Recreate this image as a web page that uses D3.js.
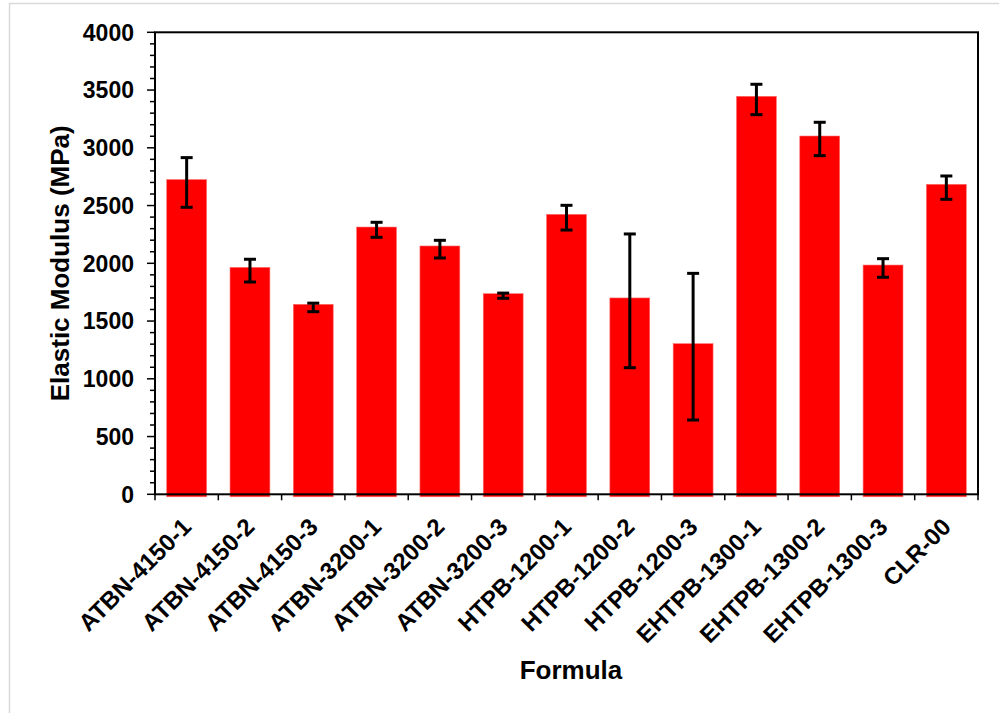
<!DOCTYPE html>
<html>
<head>
<meta charset="utf-8">
<script src="https://cdn.jsdelivr.net/npm/d3@7"></script>
<style>
  body { margin: 0; background: #fff; }
  text { font-family: Arial, "Liberation Sans", sans-serif; font-weight: bold; fill: #000; }
</style>
</head>
<body>
<div id="chart"></div>
<script>
// formulas along the x axis
var formulas = ["ATBN-4150-1", "ATBN-4150-2", "ATBN-4150-3", "ATBN-3200-1", "ATBN-3200-2", "ATBN-3200-3",
    "HTPB-1200-1", "HTPB-1200-2", "HTPB-1200-3", "EHTPB-1300-1", "EHTPB-1300-2", "EHTPB-1300-3", "CLR-00"];
// elastic modulus (MPa)
var modulus = [2725, 1965, 1645, 2314, 2150, 1737, 2424, 1700, 1304, 3446, 3102, 1985, 2684];
// error bar extents (MPa), above and below
var errPlus = [190, 70, 10, 41, 49, 5, 78, 554, 609, 104, 119, 55, 72];
var errMinus = [240, 127, 64, 89, 104, 40, 136, 604, 661, 159, 170, 106, 130];
var yTicks = [0, 500, 1000, 1500, 2000, 2500, 3000, 3500, 4000];

var W = 999, H = 713;
var m = {left: 155, right: 21, top: 32.3, bottom: 218.7};

var svg = d3.select("#chart").append("svg").attr("width", W).attr("height", H);

// outer chart border
svg.append("rect").attr("x", 9.5).attr("y", 3.5).attr("width", W).attr("height", H + 10)
    .attr("fill", "none").attr("stroke", "#d9d9d9").attr("stroke-width", 1.5);

var x = d3.scaleBand().domain(formulas).range([m.left, W - m.right]).paddingInner(0.37).paddingOuter(0.185);
var y = d3.scaleLinear().domain([0, 4000]).range([H - m.bottom, m.top]);
var xb = d3.scaleLinear().domain([0, formulas.length]).range([m.left, W - m.right]);

// bars
svg.append("g").selectAll("rect").data(formulas).enter().append("rect")
    .attr("x", d => x(d))
    .attr("width", x.bandwidth())
    .attr("y", (d, i) => y(modulus[i]))
    .attr("height", (d, i) => y(0) - y(modulus[i]) + 2.5)
    .attr("fill", "#ff0000")
    .attr("stroke", "#ff7070").attr("stroke-width", 0.6);

// error bars
var eb = svg.append("g").attr("stroke", "#000").attr("stroke-width", 3);
formulas.forEach(function(d, i) {
    var cx = x(d) + x.bandwidth() / 2;
    var hi = y(modulus[i] + errPlus[i]), lo = y(modulus[i] - errMinus[i]);
    eb.append("line").attr("x1", cx).attr("x2", cx).attr("y1", hi).attr("y2", lo);
    eb.append("line").attr("x1", cx - 6).attr("x2", cx + 6).attr("y1", hi).attr("y2", hi);
    eb.append("line").attr("x1", cx - 6).attr("x2", cx + 6).attr("y1", lo).attr("y2", lo);
});

// frame
svg.append("rect").attr("x", m.left).attr("y", m.top)
    .attr("width", W - m.right - m.left).attr("height", y(0) - m.top)
    .attr("fill", "none").attr("stroke", "#000").attr("stroke-width", 2);

// y axis: minor ticks every 100, major every 500
var minor = d3.range(0, 4001, 100);
svg.append("g").selectAll("line").data(minor).enter().append("line")
    .attr("x1", d => d % 500 === 0 ? m.left - 8 : m.left - 5).attr("x2", m.left)
    .attr("y1", d => y(d)).attr("y2", d => y(d))
    .attr("stroke", "#000").attr("stroke-width", 1.5);

svg.append("g").selectAll("text").data(yTicks).enter().append("text")
    .attr("x", 134).attr("y", d => y(d)).attr("dy", "0.36em")
    .attr("text-anchor", "end").style("font-size", "23px")
    .text(d => d);

// x axis ticks at category boundaries
svg.append("g").selectAll("line").data(d3.range(0, formulas.length + 1)).enter().append("line")
    .attr("x1", d => xb(d)).attr("x2", d => xb(d))
    .attr("y1", y(0)).attr("y2", y(0) + 6)
    .attr("stroke", "#000").attr("stroke-width", 1.5);

svg.append("g").selectAll("text").data(formulas).enter().append("text")
    .attr("transform", d => "translate(" + (x(d) + x.bandwidth() / 2) + "," + (y(0) + 28) + ") rotate(-45)")
    .attr("text-anchor", "end").attr("dy", "0.36em")
    .style("font-size", "24px")
    .text(d => d);

// axis titles
svg.append("text").attr("transform", "translate(60," + (m.top + y(0)) / 2 + ") rotate(-90)")
    .attr("text-anchor", "middle").attr("dy", "0.36em").style("font-size", "26px")
    .text("Elastic Modulus (MPa)");

svg.append("text").attr("x", 571).attr("y", 679).attr("text-anchor", "middle")
    .style("font-size", "26px").text("Formula");
</script>
</body>
</html>
